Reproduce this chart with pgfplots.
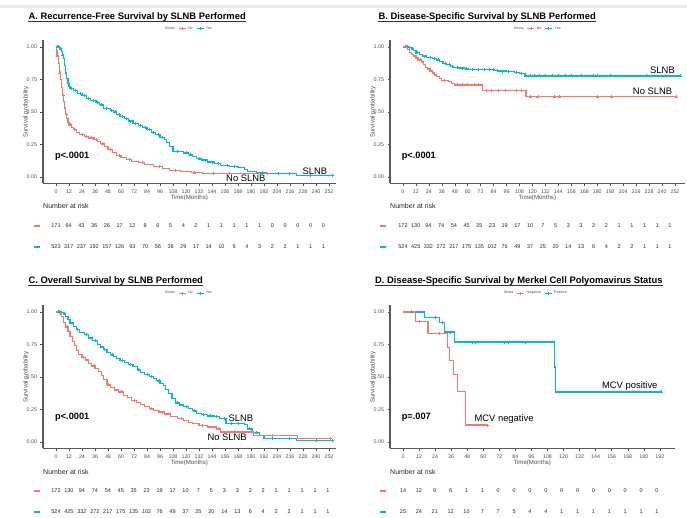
\documentclass[border=0pt]{standalone}
\usepackage{pgfplots}
\pgfplotsset{compat=1.18}
\usepackage{fontspec}
\setmainfont{Liberation Sans}
\definecolor{cNo}{HTML}{F8766D}
\definecolor{cYes}{HTML}{00BFC4}
\definecolor{gtxt}{HTML}{4D4D4D}
\newcommand{\fs}[1]{\fontsize{#1}{#1}\selectfont}

\pgfplotsset{
  km/.style={
    scale only axis, height=143pt,
    ymin=-0.05, ymax=1.05,
    axis lines*=left, axis line style={black!65, line width=1.1pt},
    tick align=outside, major tick length=2.5pt,
    tick style={black!70, line width=0.5pt},
    ytick={0,0.25,0.5,0.75,1},
    yticklabel style={/pgf/number format/.cd, fixed, fixed zerofill, precision=2},
    /pgf/number format/assume math mode=true,
    ticklabel style={font=\fs{5.3}, text=gtxt},
    xtick={0,12,...,252},
    xlabel={Time(Months)}, ylabel={Survival probability},
    label style={font=\fs{6.1}, text=gtxt},
    xlabel style={yshift=5pt},
    ylabel style={yshift=-9pt},
    clip=false,
    legend style={draw=none, fill=none, inner sep=0pt, legend columns=-1,
      font=\fs{3.6}, text=gtxt, anchor=west,
      /tikz/every even column/.append style={column sep=1.5pt}},
    legend image code/.code={\draw[mark repeat=2,mark phase=2,#1]
      plot coordinates {(0pt,0pt) (3.5pt,0pt) (7pt,0pt)};},
  },
  curve/.style={const plot, line width=1.2pt, forget plot, #1},
  cens/.style={only marks, mark=+, mark size=1.5pt, line width=0.55pt, forget plot, #1},
  risk/.style={scale only axis, hide axis, ymin=0, ymax=1, xmin=0, clip=false},
  rnum/.style={draw=none, forget plot, nodes near coords, point meta=explicit symbolic,
    every node near coord/.append style={anchor=center, font=\fs{5.5}, text=black!85}},
  rdash/.style={only marks, mark=-, mark size=2.8pt, line width=1.8pt, forget plot, #1},
}
% bold panel title with a heavy rule beneath it
\newcommand{\paneltitle}[3]{%
  \node[anchor=base west, font=\fs{9.4}\bfseries, inner sep=0pt] (#1) at (#2) {#3};
  \draw[line width=1.1pt, black!80] ([yshift=-2.3pt]#1.base west) -- ([yshift=-2.3pt]#1.base east);}

\begin{document}
\begin{tikzpicture}
\useasboundingbox (0pt,0pt) rectangle (687pt,518pt);
\fill[black!7] (0pt,510pt) rectangle (687pt,513pt);

% ---------------- A. Recurrence-free survival ----------------
\begin{axis}[km, width=292.5pt, at={(43pt,334.5pt)}, anchor=south west,
  xmin=-12, xmax=258,
  legend style={at={(axis description cs:0.41,1.083)}}]
\addplot[curve=cYes] coordinates {
(0,1.000) (3,0.985) (5,0.965) (6,0.94) (7,0.91) (8,0.86) (9,0.80) (10,0.76)
(11,0.72) (12,0.695) (13,0.68) (16,0.665) (20,0.645) (24,0.625) (28,0.605)
(32,0.59) (37,0.575) (40,0.555) (44,0.525) (50,0.51) (53,0.50) (56,0.48)
(59,0.465) (63,0.45) (67,0.43) (71,0.41) (76,0.395) (80,0.38) (84,0.365)
(88,0.345) (92,0.325) (96,0.305) (100,0.29) (102,0.265) (105,0.235) (108,0.195)
(118,0.185) (122,0.17) (126,0.16) (130,0.14) (134,0.13) (140,0.115) (146,0.105)
(152,0.09) (160,0.08) (168,0.07) (174,0.06) (177,0.04) (185,0.032) (195,0.026)
(222,0.013) (255,0.013)};
\addplot[cens=cYes] coordinates {
(1,1) (2,1) (4,0.985) (6,0.94) (12,0.695) (14,0.68) (18,0.665) (22,0.645)
(26,0.625) (30,0.605) (34,0.59) (38,0.575) (42,0.555) (46,0.525) (51,0.51)
(55,0.50) (58,0.48) (61,0.465) (65,0.45) (69,0.43) (73,0.41) (78,0.395)
(82,0.38) (86,0.365) (90,0.345) (94,0.325) (98,0.305) (112,0.195) (120,0.185)
(124,0.17) (132,0.14) (138,0.13) (144,0.115) (150,0.105) (158,0.09) (165,0.08)
(190,0.032) (205,0.026) (215,0.026) (235,0.013) (255,0.013)};
\addplot[curve=cNo] coordinates {
(0,1.000) (0.5,0.97) (1,0.93) (2,0.87) (3,0.80) (4,0.75) (5,0.69) (6,0.63)
(7,0.58) (8,0.53) (9,0.48) (10,0.45) (11,0.42) (12,0.40) (14,0.38) (16,0.365)
(19,0.345) (22,0.325) (26,0.31) (30,0.30) (35,0.29) (38,0.275) (41,0.255)
(45,0.235) (48,0.21) (52,0.19) (56,0.165) (60,0.15) (65,0.135) (70,0.12)
(76,0.11) (82,0.095) (90,0.08) (98,0.065) (105,0.05) (115,0.042) (125,0.032)
(135,0.026) (195,0.026)};
\addplot[cens=cNo] coordinates {
(3.5,0.80) (6.5,0.63) (9.5,0.48) (13,0.40) (17,0.365) (24,0.325) (28,0.31)
(33,0.30) (37,0.29) (43,0.255) (50,0.21) (58,0.165) (68,0.135) (80,0.11)
(95,0.08) (110,0.05) (128,0.032) (145,0.026) (160,0.026) (195,0.026)};
\addlegendimage{empty legend}\addlegendentry{Strata}
\addlegendimage{cNo, line width=0.8pt, mark=+, mark size=1.2pt}\addlegendentry{No}
\addlegendimage{cYes, line width=0.8pt, mark=+, mark size=1.2pt}\addlegendentry{Yes}
\end{axis}
\begin{axis}[risk, width=267.3pt, height=21pt, xmax=252, at={(56pt,271pt)}, anchor=south west]
\addplot[rnum] coordinates {
(0,1)[171] (12,1)[64] (24,1)[43] (36,1)[36] (48,1)[26] (60,1)[17] (72,1)[12]
(84,1)[8] (96,1)[6] (108,1)[5] (120,1)[4] (132,1)[2] (144,1)[1] (156,1)[1]
(168,1)[1] (180,1)[1] (192,1)[1] (204,1)[0] (216,1)[0] (228,1)[0] (240,1)[0] (252,1)[0]};
\addplot[rnum] coordinates {
(0,0)[523] (12,0)[317] (24,0)[237] (36,0)[192] (48,0)[157] (60,0)[126] (72,0)[93]
(84,0)[70] (96,0)[56] (108,0)[38] (120,0)[29] (132,0)[17] (144,0)[14] (156,0)[10]
(168,0)[9] (180,0)[4] (192,0)[3] (204,0)[2] (216,0)[2] (228,0)[1] (240,0)[1] (252,0)[1]};
\addplot[rdash=cNo] coordinates {(-17.9,1)};
\addplot[rdash=cYes] coordinates {(-17.9,0)};
\end{axis}
\paneltitle{tA}{28.3pt,498.9pt}{A. Recurrence-Free Survival by SLNB Performed}
\node[anchor=base east, font=\fs{9.4}] at (330.7pt,343.9pt) {SLNB};
\node[anchor=base west, font=\fs{9.4}] at (222.7pt,336.9pt) {No SLNB};
\node[anchor=base west, font=\fs{9.2}\bfseries] at (51.7pt,359.7pt) {p<.0001};
\node[anchor=west, font=\fs{7}, text=black!85, inner sep=0pt] at (43pt,312pt) {Number at risk};

% ---------------- B. Disease-specific survival ----------------
\begin{axis}[km, width=294.7pt, at={(390pt,334.5pt)}, anchor=south west,
  xmin=-12, xmax=261,
  legend style={at={(axis description cs:0.413,1.083)}}]
\addplot[curve=cYes] coordinates {
(0,1.0) (5,0.995) (8,0.985) (10,0.97) (12,0.955) (15,0.94) (18,0.93) (22,0.922)
(27,0.912) (31,0.90) (34,0.89) (37,0.875) (40,0.865) (44,0.852) (47,0.842)
(52,0.838) (57,0.832) (61,0.826) (85,0.821) (89,0.815) (96,0.81) (103,0.803)
(108,0.795) (113,0.777) (257,0.777)};
\addplot[cens=cYes] coordinates {
(2,1) (4,1) (6,0.995) (9,0.985) (13,0.955) (20,0.93) (25,0.922) (29,0.912)
(33,0.90) (39,0.875) (43,0.865) (46,0.852) (50,0.842) (55,0.838) (59,0.832)
(64,0.826) (70,0.826) (75,0.826) (80,0.826) (84,0.826) (87,0.821) (92,0.815)
(98,0.81) (105,0.803) (110,0.795) (118,0.777) (122,0.777) (126,0.777) (132,0.777)
(138,0.777) (144,0.777) (150,0.777) (156,0.777) (165,0.777) (176,0.777) (180,0.777)
(192,0.777) (225,0.777) (257,0.777)};
\addplot[curve=cNo] coordinates {
(0,1.0) (4,0.98) (6,0.96) (8,0.945) (10,0.93) (12,0.915) (14,0.90) (17,0.885)
(19,0.865) (21,0.845) (23,0.83) (25,0.815) (27,0.80) (29,0.785) (31,0.77)
(34,0.755) (36,0.745) (42,0.735) (45,0.72) (48,0.708) (74,0.665) (114,0.617)
(253,0.617)};
\addplot[cens=cNo] coordinates {
(3,1) (16,0.90) (38,0.745) (50,0.708) (55,0.708) (60,0.708) (66,0.708) (70,0.708)
(77,0.665) (82,0.665) (88,0.665) (95,0.665) (105,0.665) (110,0.665) (118,0.617)
(125,0.617) (140,0.617) (145,0.617) (180,0.617) (193,0.617) (253,0.617)};
\addlegendimage{empty legend}\addlegendentry{Strata}
\addlegendimage{cNo, line width=0.8pt, mark=+, mark size=1.2pt}\addlegendentry{No}
\addlegendimage{cYes, line width=0.8pt, mark=+, mark size=1.2pt}\addlegendentry{Yes}
\end{axis}
\begin{axis}[risk, width=267pt, height=21pt, xmax=252, at={(403pt,271.3pt)}, anchor=south west]
\addplot[rnum] coordinates {
(0,1)[172] (12,1)[130] (24,1)[94] (36,1)[74] (48,1)[54] (60,1)[45] (72,1)[35]
(84,1)[23] (96,1)[19] (108,1)[17] (120,1)[10] (132,1)[7] (144,1)[5] (156,1)[3]
(168,1)[3] (180,1)[2] (192,1)[2] (204,1)[1] (216,1)[1] (228,1)[1] (240,1)[1] (252,1)[1]};
\addplot[rnum] coordinates {
(0,0)[524] (12,0)[425] (24,0)[332] (36,0)[272] (48,0)[217] (60,0)[175] (72,0)[135]
(84,0)[102] (96,0)[76] (108,0)[49] (120,0)[37] (132,0)[25] (144,0)[20] (156,0)[14]
(168,0)[13] (180,0)[6] (192,0)[4] (204,0)[2] (216,0)[2] (228,0)[1] (240,0)[1] (252,0)[1]};
\addplot[rdash=cNo] coordinates {(-18.9,1)};
\addplot[rdash=cYes] coordinates {(-18.9,0)};
\end{axis}
\paneltitle{tB}{378.3pt,498.9pt}{B. Disease-Specific Survival by SLNB Performed}
\node[anchor=base east, font=\fs{9.4}] at (678.3pt,444.6pt) {SLNB};
\node[anchor=base east, font=\fs{9.4}] at (675.7pt,423.6pt) {No SLNB};
\node[anchor=base west, font=\fs{9.2}\bfseries] at (398.3pt,359.7pt) {p<.0001};
\node[anchor=west, font=\fs{7}, text=black!85, inner sep=0pt] at (390pt,312pt) {Number at risk};

% ---------------- C. Overall survival ----------------
\begin{axis}[km, width=292.5pt, at={(43pt,69.5pt)}, anchor=south west,
  xmin=-12, xmax=258,
  legend style={at={(axis description cs:0.41,1.085)}}]
\addplot[curve=cYes] coordinates {
(0,1.0) (4,0.995) (7,0.985) (9,0.965) (11,0.94) (13,0.915) (16,0.89) (19,0.865)
(22,0.845) (26,0.825) (30,0.80) (34,0.78) (38,0.75) (41,0.73) (44,0.71) (47,0.69)
(50,0.67) (53,0.655) (56,0.64) (59,0.625) (63,0.61) (67,0.595) (71,0.58) (75,0.555)
(78,0.535) (82,0.52) (86,0.505) (90,0.49) (93,0.47) (96,0.45) (99,0.435) (101,0.405)
(104,0.37) (107,0.335) (110,0.30) (114,0.285) (118,0.275) (122,0.26) (126,0.24)
(130,0.22) (134,0.21) (140,0.20) (146,0.195) (151,0.18) (157,0.145) (174,0.135)
(177,0.10) (181,0.07) (188,0.05) (192,0.026) (222,0.013) (255,0.013)};
\addplot[cens=cYes] coordinates {
(2,1) (3,1) (5,0.995) (8,0.985) (20,0.865) (28,0.825) (36,0.78) (45,0.71)
(52,0.67) (61,0.625) (69,0.595) (76,0.555) (84,0.52) (88,0.505) (95,0.47)
(112,0.30) (120,0.275) (128,0.24) (136,0.21) (142,0.20) (148,0.195) (155,0.18)
(162,0.145) (168,0.145) (178,0.10) (185,0.07) (200,0.026) (215,0.026) (240,0.013) (255,0.013)};
\addplot[curve=cNo] coordinates {
(0,1.0) (3,0.99) (5,0.965) (7,0.92) (9,0.885) (11,0.85) (13,0.81) (15,0.775)
(17,0.74) (19,0.705) (21,0.675) (24,0.65) (27,0.63) (30,0.605) (33,0.585)
(36,0.565) (39,0.54) (42,0.51) (44,0.48) (47,0.44) (50,0.42) (54,0.40) (58,0.385)
(62,0.36) (66,0.34) (70,0.32) (74,0.305) (78,0.29) (82,0.27) (86,0.255) (90,0.24)
(95,0.23) (100,0.215) (106,0.195) (112,0.18) (118,0.165) (122,0.15) (126,0.14)
(132,0.128) (140,0.115) (148,0.10) (152,0.077) (182,0.051) (223,0.026) (253,0.026)};
\addplot[cens=cNo] coordinates {
(4,0.99) (10,0.885) (25,0.65) (35,0.585) (48,0.44) (60,0.385) (72,0.32) (88,0.255)
(98,0.23) (116,0.18) (135,0.128) (150,0.10) (165,0.077) (200,0.051) (253,0.026)};
\addlegendimage{empty legend}\addlegendentry{Strata}
\addlegendimage{cNo, line width=0.8pt, mark=+, mark size=1.2pt}\addlegendentry{No}
\addlegendimage{cYes, line width=0.8pt, mark=+, mark size=1.2pt}\addlegendentry{Yes}
\end{axis}
\begin{axis}[risk, width=272pt, height=20.7pt, xmax=252, at={(56pt,6.3pt)}, anchor=south west]
\addplot[rnum] coordinates {
(0,1)[172] (12,1)[130] (24,1)[94] (36,1)[74] (48,1)[54] (60,1)[45] (72,1)[35]
(84,1)[23] (96,1)[19] (108,1)[17] (120,1)[10] (132,1)[7] (144,1)[5] (156,1)[3]
(168,1)[3] (180,1)[2] (192,1)[2] (204,1)[1] (216,1)[1] (228,1)[1] (240,1)[1] (252,1)[1]};
\addplot[rnum] coordinates {
(0,0)[524] (12,0)[425] (24,0)[332] (36,0)[272] (48,0)[217] (60,0)[175] (72,0)[135]
(84,0)[102] (96,0)[76] (108,0)[49] (120,0)[37] (132,0)[25] (144,0)[20] (156,0)[14]
(168,0)[13] (180,0)[6] (192,0)[4] (204,0)[2] (216,0)[2] (228,0)[1] (240,0)[1] (252,0)[1]};
\addplot[rdash=cNo] coordinates {(-17.6,1)};
\addplot[rdash=cYes] coordinates {(-17.6,0)};
\end{axis}
\paneltitle{tC}{28.3pt,234.6pt}{C. Overall Survival by SLNB Performed}
\node[anchor=base west, font=\fs{9.4}] at (225pt,96.3pt) {SLNB};
\node[anchor=base west, font=\fs{9.4}] at (204pt,77.9pt) {No SLNB};
\node[anchor=base west, font=\fs{9.2}\bfseries] at (51.7pt,98pt) {p<.0001};
\node[anchor=west, font=\fs{7}, text=black!85, inner sep=0pt] at (43pt,46pt) {Number at risk};

% ---------------- D. DSS by Merkel cell polyomavirus status ----------------
\begin{axis}[km, width=284.6pt, at={(390pt,69.5pt)}, anchor=south west,
  xmin=-9.7, xmax=203, xtick={0,12,...,192},
  legend style={at={(axis description cs:0.392,1.085)}}]
\addplot[curve=cYes] coordinates {
(0,1.0) (16,0.96) (27.5,0.918) (31,0.846) (38.5,0.769) (113,0.577) (114,0.385) (193,0.385)};
\addplot[cens=cYes] coordinates {
(6,1) (24,0.96) (29,0.918) (35.5,0.846) (52,0.769) (54,0.769) (75.5,0.769)
(78.5,0.769) (91.5,0.769) (193,0.385)};
\addplot[curve=cNo] coordinates {
(0,1.0) (9.5,0.929) (18.7,0.833) (33.5,0.729) (35,0.625) (38,0.521) (41,0.390)
(47,0.130) (63,0.130)};
\addplot[cens=cNo] coordinates {(12.5,0.929) (27.4,0.833) (63,0.130)};
\addlegendimage{empty legend}\addlegendentry{Strata}
\addlegendimage{cNo, line width=0.8pt, mark=+, mark size=1.2pt}\addlegendentry{Negative}
\addlegendimage{cYes, line width=0.8pt, mark=+, mark size=1.2pt}\addlegendentry{Positive}
\end{axis}
\begin{axis}[risk, width=254pt, height=20.7pt, xmax=192, at={(403pt,6.3pt)}, anchor=south west]
\addplot[rnum] coordinates {
(0,1)[14] (12,1)[12] (24,1)[9] (36,1)[6] (48,1)[1] (60,1)[1] (72,1)[0] (84,1)[0]
(96,1)[0] (108,1)[0] (120,1)[0] (132,1)[0] (144,1)[0] (156,1)[0] (168,1)[0] (180,1)[0] (192,1)[0]};
\addplot[rnum] coordinates {
(0,0)[25] (12,0)[24] (24,0)[21] (36,0)[12] (48,0)[10] (60,0)[7] (72,0)[7] (84,0)[5]
(96,0)[4] (108,0)[4] (120,0)[1] (132,0)[1] (144,0)[1] (156,0)[1] (168,0)[1] (180,0)[1] (192,0)[1]};
\addplot[rdash=cNo] coordinates {(-15.1,1)};
\addplot[rdash=cYes] coordinates {(-15.1,0)};
\end{axis}
\paneltitle{tD}{375pt,234.6pt}{D. Disease-Specific Survival by Merkel Cell Polyomavirus Status}
\node[anchor=base east, font=\fs{9.4}] at (661pt,129.6pt) {MCV positive};
\node[anchor=base west, font=\fs{9.4}] at (471pt,96.9pt) {MCV negative};
\node[anchor=base west, font=\fs{9.2}\bfseries] at (398.3pt,98pt) {p=.007};
\node[anchor=west, font=\fs{7}, text=black!85, inner sep=0pt] at (390pt,46pt) {Number at risk};
\end{tikzpicture}
\end{document}
